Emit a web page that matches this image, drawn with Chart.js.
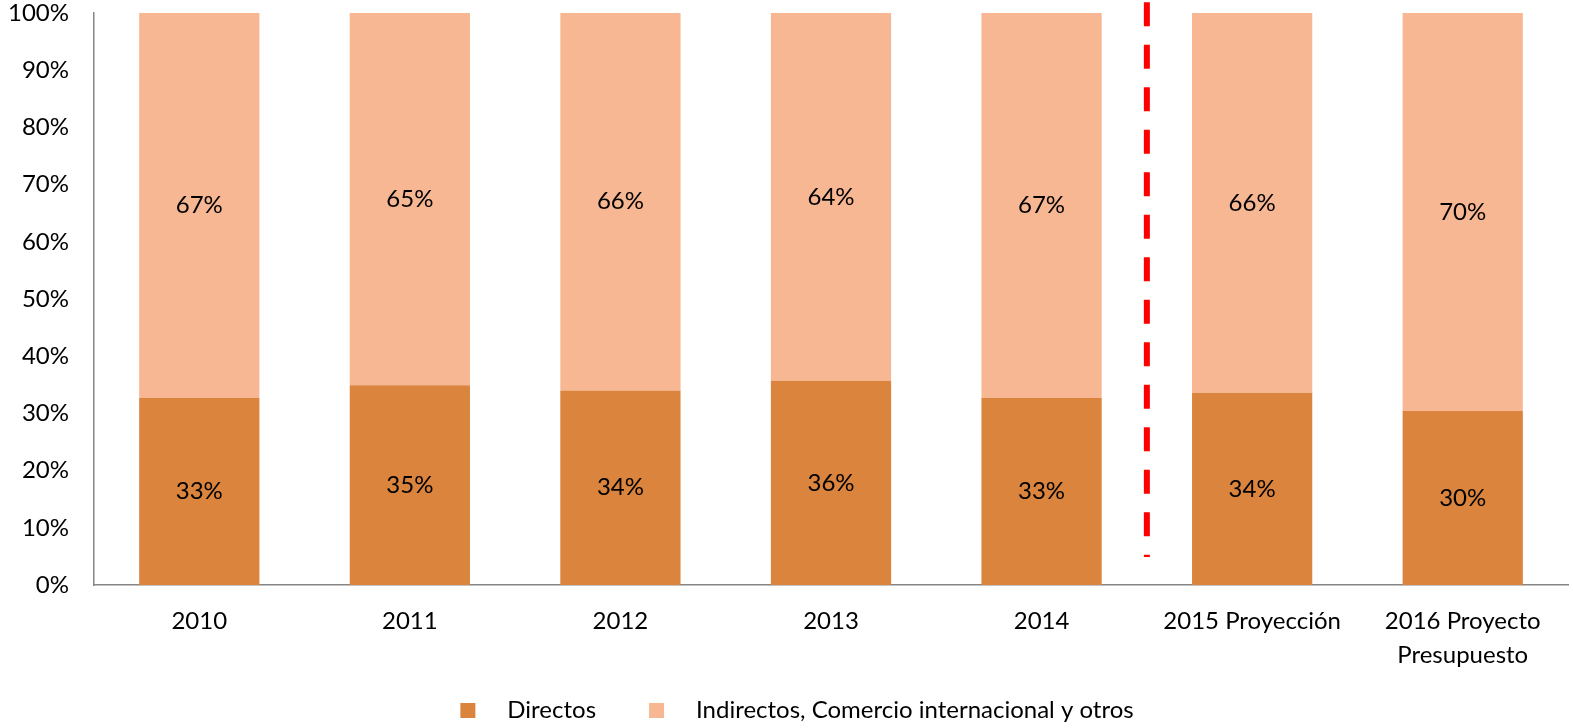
<!DOCTYPE html>
<html>
<head>
<meta charset="utf-8">
<script src="https://cdn.jsdelivr.net/npm/chart.js@4.4.1/dist/chart.umd.min.js"></script>
<style>
  html, body { margin: 0; padding: 0; background: #fff; }
  #wrap { width: 1573px; height: 728px; }
</style>
</head>
<body>
<div id="wrap"><canvas id="chart"></canvas></div>
<script>
const categories = ["2010", "2011", "2012", "2013", "2014", "2015 Proyección", ["2016 Proyecto", "Presupuesto"]];
const directos = [32.7, 34.9, 34.0, 35.7, 32.7, 33.6, 30.4];
const indirectos = [67.3, 65.1, 66.0, 64.3, 67.3, 66.4, 69.6];
const seriesNames = ["Directos", "Indirectos, Comercio internacional y otros"];
const colors = ["#DB843D", "#F8B793"];
// dashed separator between actual years and projections (category index, % range)
const separator = { at: 4.5, from: 101.9, to: 4.9 };

const FONT = "Lato, 'Open Sans', sans-serif";

// legend swatch: 15px square with room around it, like the original legend spacing
function legendMark(color) {
  const c = document.createElement("canvas");
  c.width = 78;
  c.height = 15;
  const g = c.getContext("2d");
  g.fillStyle = color;
  g.fillRect(43, 0, 15, 15);
  return c;
}
const marks = colors.map(legendMark);

const barLabels = {
  id: "barLabels",
  afterDatasetsDraw(chart) {
    const ctx = chart.ctx;
    ctx.save();
    ctx.font = "24px " + FONT;
    ctx.fillStyle = "#000";
    ctx.textAlign = "center";
    ctx.textBaseline = "middle";
    chart.data.datasets.forEach((ds, i) => {
      chart.getDatasetMeta(i).data.forEach((bar, j) => {
        const y = (bar.y + bar.base) / 2;
        ctx.fillText(Math.round(ds.data[j]) + "%", bar.x, y);
      });
    });
    ctx.restore();
  }
};

const separatorLine = {
  id: "separatorLine",
  afterDatasetsDraw(chart) {
    const ctx = chart.ctx;
    const x = chart.scales.x.getPixelForValue(separator.at);
    const y0 = chart.scales.y.getPixelForValue(separator.from);
    const y1 = chart.scales.y.getPixelForValue(separator.to);
    ctx.save();
    ctx.strokeStyle = "#FF0000";
    ctx.lineWidth = 6;
    ctx.setLineDash([24, 18.5]);
    ctx.beginPath();
    ctx.moveTo(x, y0);
    ctx.lineTo(x, y1);
    ctx.stroke();
    ctx.restore();
  }
};

new Chart(document.getElementById("chart"), {
  type: "bar",
  data: {
    labels: categories,
    datasets: [
      { label: seriesNames[0], data: directos, backgroundColor: colors[0] },
      { label: seriesNames[1], data: indirectos, backgroundColor: colors[1] }
    ]
  },
  options: {
    responsive: true,
    maintainAspectRatio: false,
    animation: false,
    layout: { padding: { left: -17, right: 5, top: 13, bottom: -4 } },
    datasets: { bar: { categoryPercentage: 1, barPercentage: 0.571 } },
    scales: {
      x: {
        stacked: true,
        grid: { display: false, drawTicks: false },
        border: { display: true, color: "#868686", width: 1.5 },
        ticks: { color: "#000", font: { family: FONT, size: 24, lineHeight: 1.42 }, padding: 19, maxRotation: 0, autoSkip: false },
        afterFit(scale) {
          scale.paddingLeft = 0;
          scale.paddingRight = 0;
          scale.height = 103;
        }
      },
      y: {
        stacked: true,
        min: 0,
        max: 100,
        grid: { display: false, drawTicks: false },
        border: { display: true, color: "#868686", width: 1.5 },
        ticks: { stepSize: 10, color: "#000", font: { family: FONT, size: 24 }, padding: 25, callback: v => v + "%" },
        afterFit(scale) {
          scale.paddingTop = 0;
          scale.paddingBottom = 0;
        }
      }
    },
    plugins: {
      tooltip: { enabled: false },
      legend: {
        position: "bottom",
        labels: {
          color: "#000",
          font: { family: FONT, size: 24 },
          usePointStyle: true,
          pointStyleWidth: 78,
          boxHeight: 15,
          padding: 10,
          generateLabels(chart) {
            const items = Chart.defaults.plugins.legend.labels.generateLabels(chart);
            items.forEach((it, i) => { it.pointStyle = marks[i]; });
            return items;
          }
        }
      }
    }
  },
  plugins: [barLabels, separatorLine]
});
</script>
</body>
</html>
